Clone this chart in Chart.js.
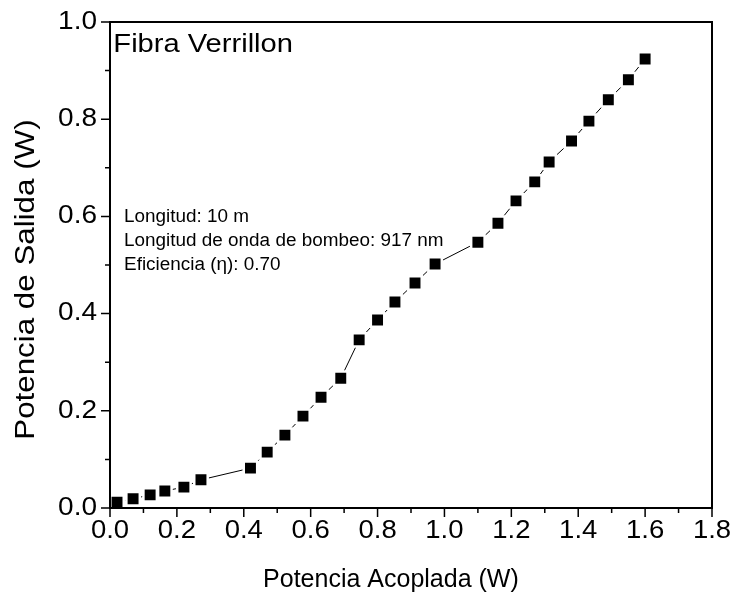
<!DOCTYPE html>
<html>
<head>
<meta charset="utf-8">
<script src="https://cdn.jsdelivr.net/npm/chart.js@4.4.0/dist/chart.umd.min.js"></script>
<style>
  html, body { margin: 0; padding: 0; background: #fff; }
  #wrap { width: 736px; height: 602px; }
</style>
</head>
<body>
<div id="wrap"><canvas id="chart" width="736" height="602"></canvas></div>
<script>
// Potencia acoplada (W)
var xValues = [0.021, 0.069, 0.12, 0.164, 0.221, 0.272, 0.42, 0.47, 0.523, 0.577,
               0.631, 0.69, 0.745, 0.80, 0.852, 0.912, 0.972, 1.10, 1.16, 1.214,
               1.27, 1.313, 1.38, 1.432, 1.49, 1.55, 1.60];
// Potencia de salida (W)
var yValues = [0.012, 0.019, 0.027, 0.035, 0.043, 0.058, 0.082, 0.115, 0.15, 0.189,
               0.228, 0.267, 0.346, 0.387, 0.424, 0.463, 0.502, 0.547, 0.586, 0.632,
               0.671, 0.712, 0.755, 0.796, 0.84, 0.881, 0.924];
var xTicks = [0, 0.2, 0.4, 0.6, 0.8, 1.0, 1.2, 1.4, 1.6, 1.8];
var yTicks = [0, 0.2, 0.4, 0.6, 0.8, 1.0];
var infoLines = ["Longitud: 10 m", "Longitud de onda de bombeo: 917 nm", "Eficiencia (\u03B7): 0.70"];
var panelTitle = "Fibra Verrillon";
var xTitle = "Potencia Acoplada (W)";
var yTitle = "Potencia de Salida (W)";

var FONT = "'Liberation Sans', Arial, Helvetica, sans-serif";

var points = xValues.map(function (x, i) { return { x: x, y: yValues[i] }; });

// text drawn a bit wider, like the original plot software does
function wideText(ctx, text, x, y, sx, angle) {
    ctx.save();
    ctx.translate(x, y);
    if (angle) ctx.rotate(angle);
    ctx.scale(sx, 1);
    ctx.fillText(text, 0, 0);
    ctx.restore();
}

// Frame, minor/major ticks, tick labels, titles and text labels
var framePlugin = {
    id: 'frame',
    afterDraw: function (chart) {
        var ctx = chart.ctx;
        var area = chart.chartArea;
        var xs = chart.scales.x;
        var ys = chart.scales.y;
        ctx.save();
        ctx.strokeStyle = '#000';
        ctx.lineWidth = 2;
        ctx.strokeRect(area.left, area.top, area.right - area.left, area.bottom - area.top);

        ctx.lineWidth = 1.5;
        ctx.beginPath();
        xTicks.forEach(function (v, i) {
            var px = xs.getPixelForValue(v);
            ctx.moveTo(px, area.bottom);
            ctx.lineTo(px, area.bottom + 9);
            if (i < xTicks.length - 1) {
                var mx = xs.getPixelForValue((v + xTicks[i + 1]) / 2);
                ctx.moveTo(mx, area.bottom);
                ctx.lineTo(mx, area.bottom + 5);
            }
        });
        yTicks.forEach(function (v, i) {
            var py = ys.getPixelForValue(v);
            ctx.moveTo(area.left, py);
            ctx.lineTo(area.left - 9, py);
            if (i < yTicks.length - 1) {
                var my = ys.getPixelForValue((v + yTicks[i + 1]) / 2);
                ctx.moveTo(area.left, my);
                ctx.lineTo(area.left - 5, my);
            }
        });
        ctx.stroke();

        ctx.fillStyle = '#000';
        ctx.textBaseline = 'middle';

        // tick labels
        ctx.font = '25px ' + FONT;
        ctx.textAlign = 'center';
        xTicks.forEach(function (v) {
            wideText(ctx, v.toFixed(1), xs.getPixelForValue(v), area.bottom + 23, 1.1, 0);
        });
        ctx.textAlign = 'right';
        yTicks.forEach(function (v) {
            wideText(ctx, v.toFixed(1), area.left - 13, ys.getPixelForValue(v), 1.12, 0);
        });

        ctx.textAlign = 'left';
        ctx.font = '26px ' + FONT;
        wideText(ctx, panelTitle, xs.getPixelForValue(0.01), ys.getPixelForValue(0.952), 1.12, 0);

        ctx.font = '18px ' + FONT;
        infoLines.forEach(function (t, i) {
            wideText(ctx, t, xs.getPixelForValue(0.042), ys.getPixelForValue(0.599 - i * 0.05), 1.05, 0);
        });

        // axis titles
        ctx.textAlign = 'center';
        ctx.font = '25px ' + FONT;
        wideText(ctx, xTitle, xs.getPixelForValue(0.84), 580, 1.0, 0);
        ctx.font = '27px ' + FONT;
        wideText(ctx, yTitle, 27, ys.getPixelForValue(0.47), 1.16, -Math.PI / 2);
        ctx.restore();
    }
};

new Chart(document.getElementById('chart'), {
    type: 'line',
    data: {
        datasets: [{
            data: points,
            borderColor: '#000',
            borderWidth: 1,
            backgroundColor: '#000',
            pointStyle: 'rect',
            pointRadius: 9.5,
            pointBorderWidth: 2.5,
            pointBorderColor: '#fff',
            pointBackgroundColor: '#000',
            tension: 0,
            clip: false
        }]
    },
    options: {
        responsive: false,
        animation: false,
        events: [],
        layout: { padding: { left: 0, right: 24, top: 22, bottom: 0 } },
        plugins: { legend: { display: false }, tooltip: { enabled: false } },
        scales: {
            x: {
                type: 'linear',
                min: 0,
                max: 1.8,
                afterFit: function (scale) { scale.height = 94; },
                afterBuildTicks: function (scale) {
                    scale.ticks = xTicks.map(function (v) { return { value: v }; });
                },
                grid: { display: false },
                border: { display: false },
                ticks: { display: false },
                title: { display: false }
            },
            y: {
                type: 'linear',
                min: 0,
                max: 1.0,
                afterFit: function (scale) { scale.width = 110; },
                afterBuildTicks: function (scale) {
                    scale.ticks = yTicks.map(function (v) { return { value: v }; });
                },
                grid: { display: false },
                border: { display: false },
                ticks: { display: false },
                title: { display: false }
            }
        }
    },
    plugins: [framePlugin]
});
</script>
</body>
</html>
